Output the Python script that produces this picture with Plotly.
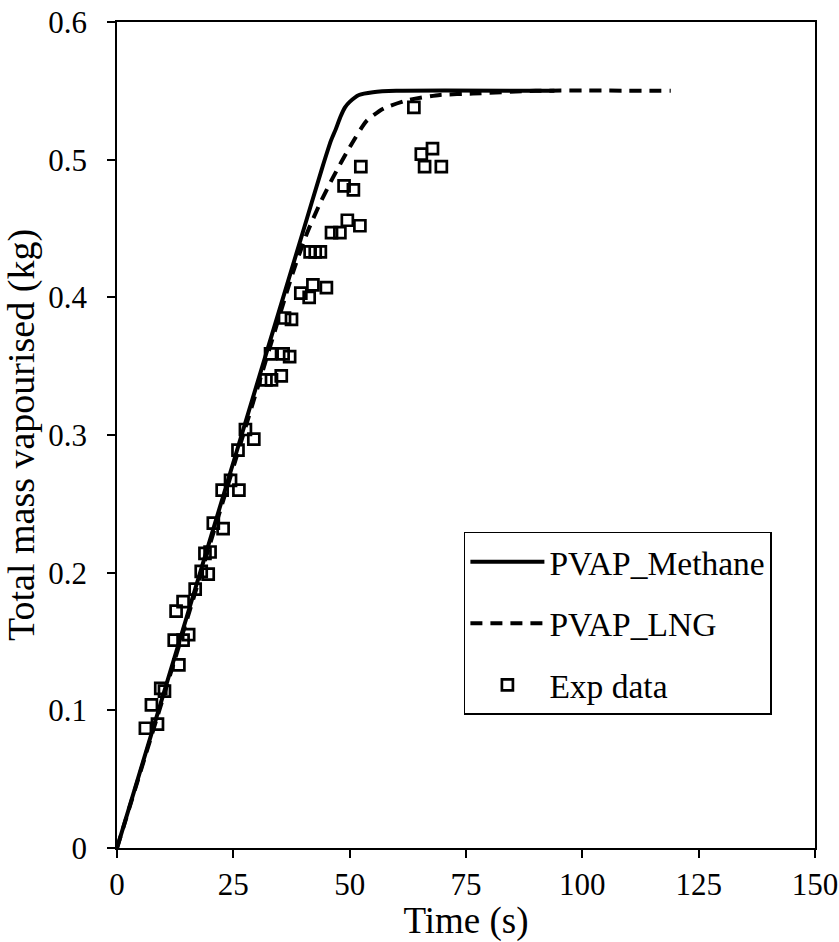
import plotly.graph_objects as go

# PVAP_Methane model curve
methane_t = [0, 10, 20, 30, 40, 44, 46, 47, 48, 49, 50, 52, 55, 60, 94]
methane_m = [0, 0.112, 0.224, 0.336, 0.448, 0.493, 0.514, 0.522, 0.531, 0.538, 0.542, 0.547, 0.549, 0.550, 0.550]

# PVAP_LNG model curve
lng_t = [0, 10, 20, 30, 38, 41, 43.6, 46.4, 50, 53.6, 57.2, 62.2, 69.4, 76.5, 90, 119]
lng_m = [0, 0.110, 0.221, 0.332, 0.420, 0.448, 0.468, 0.487, 0.509, 0.528, 0.537, 0.543, 0.547, 0.548, 0.550, 0.550]

# Experimental data
exp_t = [6.1, 7.4, 8.7, 9.4, 10.2, 13.3, 12.3, 14.2, 15.4, 12.7, 14.2, 16.8, 18.1, 19.6, 18.9, 20.0,
         20.7, 22.8, 22.6, 24.4, 26.2, 26.0, 27.6, 29.4, 32.0, 33.2, 35.3, 33.0, 35.7, 37.1,
         36.0, 37.5, 39.5, 41.3, 42.1, 45.0, 41.5, 42.6, 43.7, 46.1, 47.9, 49.5, 52.2, 48.8, 50.8,
         52.4, 63.8, 65.4, 67.8, 66.1, 69.7]
exp_m = [0.087, 0.104, 0.090, 0.116, 0.114, 0.133, 0.151, 0.151, 0.155, 0.172, 0.179, 0.188, 0.201, 0.199, 0.214, 0.215,
         0.236, 0.232, 0.260, 0.267, 0.260, 0.289, 0.304, 0.297, 0.340, 0.340, 0.343, 0.359, 0.359, 0.357,
         0.385, 0.384, 0.403, 0.400, 0.409, 0.407, 0.433, 0.433, 0.433, 0.447, 0.447, 0.456, 0.452, 0.481, 0.478,
         0.495, 0.538, 0.504, 0.508, 0.495, 0.495]

x_ticks = [0, 25, 50, 75, 100, 125, 150]
y_ticks = [0, 0.1, 0.2, 0.3, 0.4, 0.5, 0.6]
y_labels = ["0", "0.1", "0.2", "0.3", "0.4", "0.5", "0.6"]

FONT = "Liberation Serif"

fig = go.Figure()
fig.add_trace(go.Scatter(x=methane_t, y=methane_m, mode="lines", name="PVAP_Methane",
                         legendgroup="a", line=dict(color="black", width=4, shape="spline", smoothing=0.6)))
fig.add_trace(go.Scatter(x=lng_t, y=lng_m, mode="lines", name="PVAP_LNG",
                         legendgroup="b", line=dict(color="black", width=4, dash="12px,8px", shape="spline", smoothing=0.6)))
fig.add_trace(go.Scatter(x=exp_t, y=exp_m, mode="markers", name="Exp data",
                         legendgroup="c",
                         marker=dict(symbol="square-open", size=11, color="black", line=dict(width=2.7, color="black"))))

axis_common = dict(showgrid=False, zeroline=False, showline=True, linecolor="black", linewidth=1.5,
                   mirror=True, ticks="outside", ticklen=8, tickwidth=1.5, tickcolor="black",
                   automargin=False,
                   tickfont=dict(family=FONT, size=31, color="black"))

fig.update_layout(
    template="none",
    width=839, height=942,
    margin=dict(l=117, r=24, t=22, b=94),
    paper_bgcolor="white", plot_bgcolor="white",
    font=dict(family=FONT, size=31, color="black"),
    showlegend=True,
    legend=dict(x=0.497, y=0.3826, xanchor="left", yanchor="top",
                bordercolor="black", borderwidth=1.5, bgcolor="white",
                font=dict(family=FONT, size=33.5, color="black"),
                tracegroupgap=15, itemwidth=74),
    xaxis=dict(range=[0, 150], tickvals=x_ticks, ticktext=[str(v) for v in x_ticks],
               title=dict(text="Time (s)", font=dict(family=FONT, size=37), standoff=6), **axis_common),
    yaxis=dict(range=[0, 0.6], tickvals=y_ticks, ticktext=y_labels, ticklabelstandoff=14,
               title=dict(text="Total mass vapourised (kg)", font=dict(family=FONT, size=38), standoff=6), **axis_common),
)

fig.write_html("out.html")
